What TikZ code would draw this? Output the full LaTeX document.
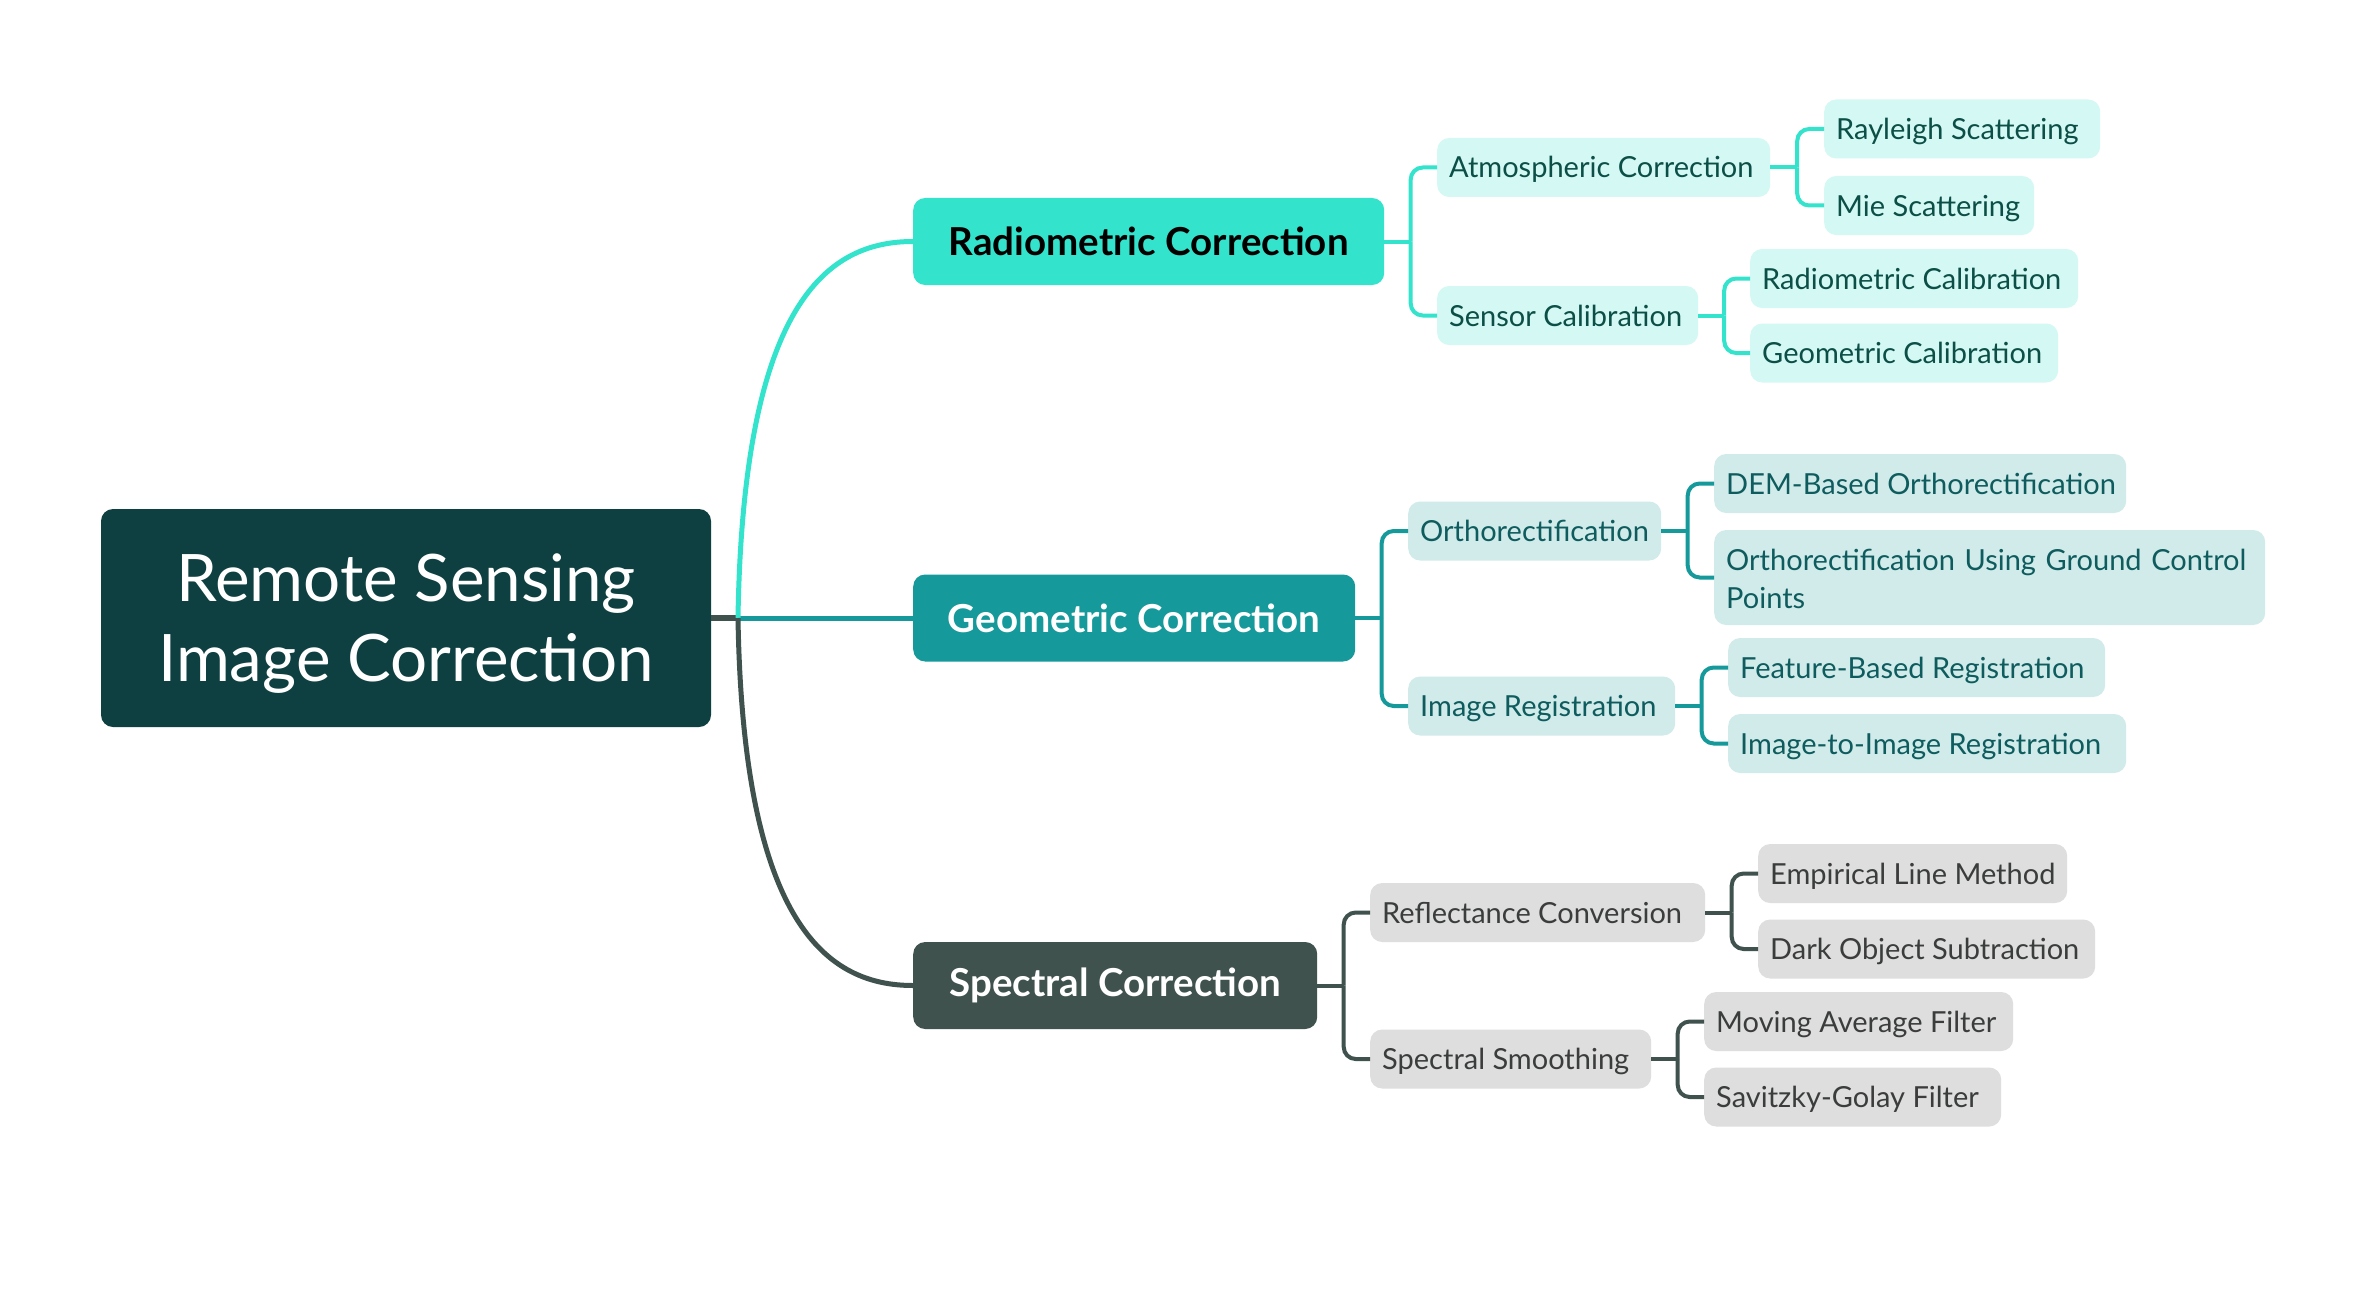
\documentclass[tikz,border=0pt]{standalone}
\usepackage{fontspec}
\setmainfont{Lato}
\usetikzlibrary{calc}
\definecolor{rootc}{HTML}{0F4041}
\definecolor{radc}{HTML}{33E3CC}
\definecolor{geoc}{HTML}{15999B}
\definecolor{spcc}{HTML}{3F524E}
\definecolor{radl}{HTML}{D4F8F4}
\definecolor{geol}{HTML}{D1EBEB}
\definecolor{spcl}{HTML}{DDDEDD}
\definecolor{radt}{HTML}{0B4F46}
\definecolor{geot}{HTML}{0E5C5E}
\definecolor{spct}{HTML}{3A3D3C}
\tikzset{
  rootbox/.style={rounded corners=12pt, fill=rootc, text=white, inner sep=0pt, minimum width=610pt, minimum height=218pt, align=center, font=\fontsize{65.5}{80}\selectfont},
  lonebox/.style={rounded corners=12pt, inner sep=0pt, minimum height=87pt, anchor=west, font=\fontsize{38.5}{44}\selectfont\bfseries},
  ltwobox/.style={rounded corners=12pt, inner ysep=0pt, inner xsep=12pt, minimum height=59pt, anchor=west, font=\fontsize{29}{38}\selectfont},
  onel/.style={text height=25pt, text depth=4pt},
  rsub/.style={ltwobox, onel, fill=radl, text=radt},
  gsub/.style={ltwobox, fill=geol, text=geot},
  gsubo/.style={gsub, onel},
  ssub/.style={ltwobox, onel, fill=spcl, text=spct},
  conn/.style={line width=4pt},
}
\newcommand{\lb}[2]{\makebox[#1pt][l]{#2}}
\newcommand{\branch}[4]{% parent, child1, child2, color
  \coordinate (#1bus) at ($(#1.east)!0.5!(#2.west)$);
  \draw[conn, #4] (#1.east) -- (#1bus |- #1.east);
  \draw[conn, #4, rounded corners=12pt] (#1bus |- #1.east) |- (#2.west);
  \draw[conn, #4, rounded corners=12pt] (#1bus |- #1.east) |- (#3.west);
}
\begin{document}
\begin{tikzpicture}[x=1pt,y=-1pt]
\useasboundingbox[fill=white] (0,0) rectangle (2366,1292);
% root
\node[rootbox] (root) at (406,618) {\rule{0pt}{58pt}Remote Sensing\\Image Correction};
% level 1
\node[lonebox, fill=radc, text=black, minimum width=471pt] (rad) at (913,241.5) {Radiometric Correction};
\node[lonebox, fill=geoc, text=white, minimum width=442pt] (geo) at (913,618) {Geometric Correction};
\node[lonebox, fill=spcc, text=white, minimum width=404pt] (spc) at (913,985.5) {Spectral Correction};
% level 2 radiometric
\node[rsub] (atm) at (1437,167.5) {\lb{309}{Atmospheric Correction}};
\node[rsub] (sen) at (1437,315.5) {\lb{237}{Sensor Calibration}};
\node[rsub] (ray) at (1824,129) {\lb{252}{Rayleigh Scattering}};
\node[rsub] (mie) at (1824,205.5) {\lb{186}{Mie Scattering}};
\node[rsub] (rcal) at (1750,278.5) {\lb{304}{Radiometric Calibration}};
\node[rsub] (gcal) at (1750,353) {\lb{284}{Geometric Calibration}};
% level 2 geometric
\node[gsubo] (ort) at (1408,531) {\lb{229}{Orthorectification}};
\node[gsubo] (reg) at (1408,706) {\lb{243}{Image Registration}};
\node[gsubo] (dem) at (1714,483.5) {\lb{388}{DEM-Based Orthorectification}};
\node[gsub, text width=527pt, align=left, minimum height=95pt] (gcp) at (1714,577.5) {\rule{0pt}{25pt}Orthorectification Using Ground Control\\Points};
\node[gsubo] (fea) at (1728,667.5) {\lb{353}{Feature-Based Registration}};
\node[gsubo] (i2i) at (1728,743.5) {\lb{374}{Image-to-Image Registration}};
% level 2 spectral
\node[ssub] (ref) at (1370,912.5) {\lb{311}{Reflectance Conversion}};
\node[ssub] (smo) at (1370,1059) {\lb{257}{Spectral Smoothing}};
\node[ssub] (emp) at (1758,873.5) {\lb{285}{Empirical Line Method}};
\node[ssub] (dos) at (1758,949) {\lb{313}{Dark Object Subtraction}};
\node[ssub] (mov) at (1704,1021.5) {\lb{285}{Moving Average Filter}};
\node[ssub] (sav) at (1704,1097) {\lb{273}{Savitzky-Golay Filter}};
% main connectors
\coordinate (j) at (738,618);
\draw[line width=6pt, spcc] (root.east) -- (j);
\draw[line width=5pt, geoc] (j) -- (geo.west);
\draw[line width=5pt, radc] (j) .. controls ($(j|-rad.west)+(5,60)$) and ($(j|-rad.west)+(90,0)$) .. (rad.west);
\draw[line width=5pt, spcc] (j) .. controls ($(j|-spc.west)+(5,-60)$) and ($(j|-spc.west)+(90,0)$) .. (spc.west);
% branches
\branch{rad}{atm}{sen}{radc}
\branch{atm}{ray}{mie}{radc}
\branch{sen}{rcal}{gcal}{radc}
\branch{geo}{ort}{reg}{geoc}
\branch{ort}{dem}{gcp}{geoc}
\branch{reg}{fea}{i2i}{geoc}
\branch{spc}{ref}{smo}{spcc}
\branch{ref}{emp}{dos}{spcc}
\branch{smo}{mov}{sav}{spcc}
\end{tikzpicture}
\end{document}
